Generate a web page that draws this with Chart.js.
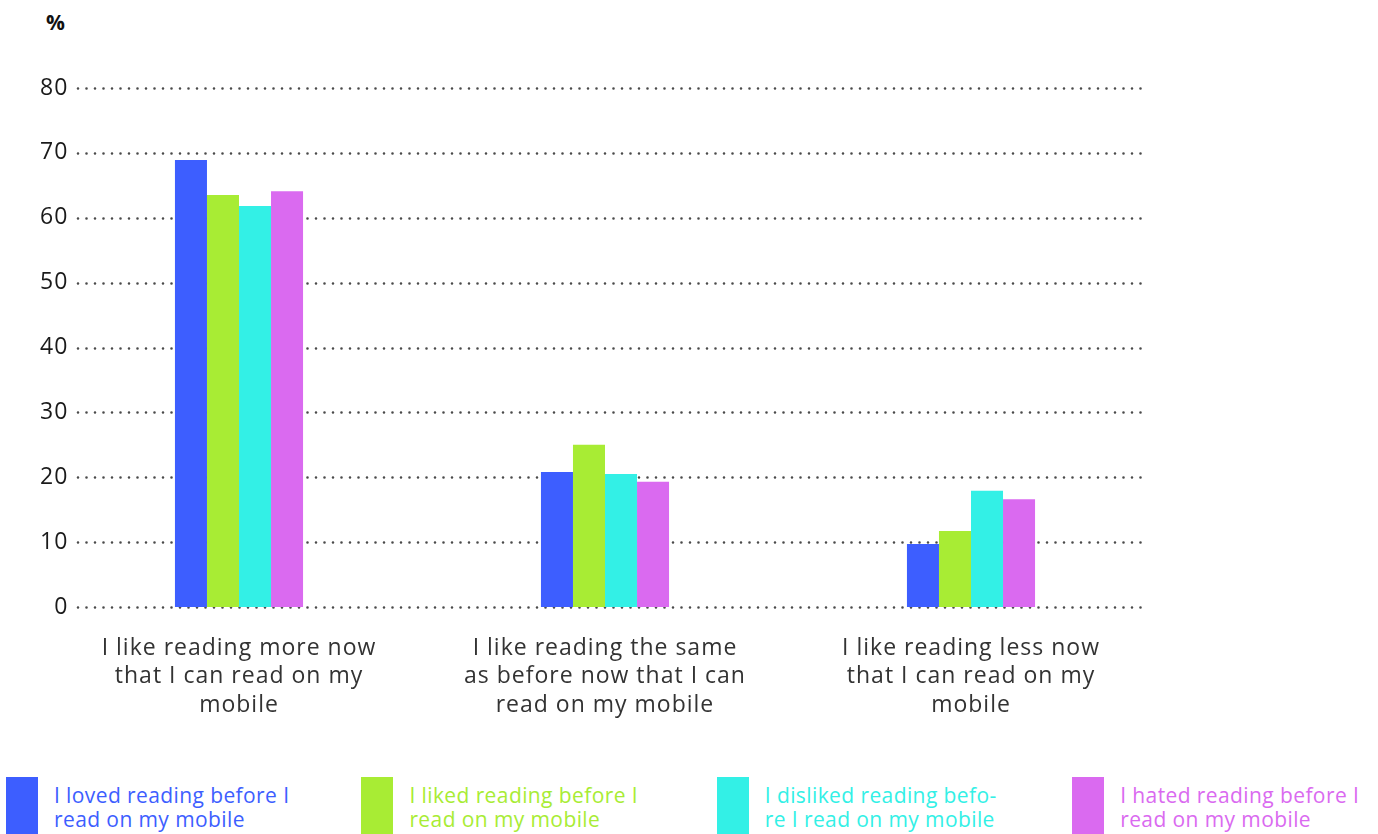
<!DOCTYPE html>
<html>
<head>
<meta charset="utf-8">
<script src="https://cdn.jsdelivr.net/npm/chart.js@4.4.0/dist/chart.umd.min.js"></script>
<style>
  body { margin: 0; background: #fff; width: 1378px; height: 834px; overflow: hidden; position: relative; font-family: "Open Sans", sans-serif; }
  #wrap { position: absolute; left: 0; top: 0; width: 1378px; height: 727px; }
  #unit { position: absolute; left: 46px; top: 8px; font: bold 21px "Open Sans", sans-serif; color: #111; }
  #legend { position: absolute; left: 0; top: 777px; width: 1378px; height: 57px; }
  .item { position: absolute; top: 0; height: 70px; }
  .box { position: absolute; left: 0; top: 0; width: 32px; height: 70px; }
  .txt { position: absolute; left: 48px; top: 6px; font-size: 21px; line-height: 24px; letter-spacing: 0.4px; white-space: nowrap; }
</style>
</head>
<body>
<div id="unit">%</div>
<div id="wrap"><canvas id="chart"></canvas></div>
<div id="legend"></div>
<script>
// categories (already broken into lines)
const categories = [
  ['I like reading more now', 'that I can read on my', 'mobile'],
  ['I like reading the same', 'as before now that I can', 'read on my mobile'],
  ['I like reading less now', 'that I can read on my', 'mobile']
];

const seriesNames = [
  ['I loved reading before I', 'read on my mobile'],
  ['I liked reading before I', 'read on my mobile'],
  ['I disliked reading befo-', 're I read on my mobile'],
  ['I hated reading before I', 'read on my mobile']
];
const seriesColors = ['#3d5eff', '#a8ec34', '#33f0e6', '#da6af0'];

// values per series, one per category
const lovedValues = [68.9, 20.8, 9.7];
const likedValues = [63.5, 25.0, 11.7];
const dislikedValues = [61.8, 20.5, 17.9];
const hatedValues = [64.1, 19.3, 16.6];
const seriesValues = [lovedValues, likedValues, dislikedValues, hatedValues];

const yTicks = [0, 10, 20, 30, 40, 50, 60, 70, 80];

// the source font is a bit wider than Open Sans
const spacing = {
  id: 'spacing',
  beforeDraw(chart) { chart.ctx.letterSpacing = '1px'; }
};

// dotted horizontal lines, drawn under the bars
const dottedGrid = {
  id: 'dottedGrid',
  beforeDatasetsDraw(chart) {
    const { ctx, chartArea, scales: { y } } = chart;
    ctx.save();
    ctx.strokeStyle = '#4a4a4a';
    ctx.lineWidth = 2.6;
    ctx.lineCap = 'round';
    ctx.setLineDash([0, 8.5]);
    yTicks.forEach(v => {
      const py = Math.round(y.getPixelForValue(v)) + 0.5;
      ctx.beginPath();
      ctx.moveTo(chartArea.left + 22, py);
      ctx.lineTo(chartArea.right - 11, py);
      ctx.stroke();
    });
    ctx.restore();
  }
};

new Chart(document.getElementById('chart').getContext('2d'), {
  type: 'bar',
  data: {
    labels: categories,
    datasets: seriesValues.map((vals, i) => ({
      label: seriesNames[i].join(' '),
      data: vals,
      backgroundColor: seriesColors[i],
      borderWidth: 0,
      categoryPercentage: 0.35,
      barPercentage: 1
    }))
  },
  options: {
    responsive: true,
    maintainAspectRatio: false,
    animation: false,
    layout: { padding: { top: 88, left: 0, right: 224, bottom: 0 } },
    plugins: {
      legend: { display: false },
      tooltip: { enabled: false }
    },
    scales: {
      x: {
        grid: { display: false, drawTicks: false },
        border: { display: false },
        ticks: {
          color: '#333',
          font: { family: 'Open Sans', size: 23, lineHeight: 1.24 },
          maxRotation: 0,
          autoSkip: false,
          padding: 27
        },
        afterFit(s) { s.height = 120; }
      },
      y: {
        min: 0,
        max: 80,
        grid: { display: false, drawTicks: false },
        border: { display: false },
        afterBuildTicks(s) { s.ticks = yTicks.map(v => ({ value: v })); },
        ticks: {
          color: '#1a1a1a',
          font: { family: 'Open Sans', size: 23 },
          mirror: true,
          crossAlign: 'far',
          padding: -14
        },
        afterFit(s) { s.width = 56; }
      }
    }
  },
  plugins: [spacing, dottedGrid]
});

// legend below the chart
const legend = document.getElementById('legend');
seriesNames.forEach((lines, i) => {
  const item = document.createElement('div');
  item.className = 'item';
  item.style.left = (6 + i * 355.4) + 'px';
  const box = document.createElement('div');
  box.className = 'box';
  box.style.background = seriesColors[i];
  const txt = document.createElement('div');
  txt.className = 'txt';
  txt.style.color = seriesColors[i];
  txt.innerHTML = lines.join('<br>');
  item.appendChild(box);
  item.appendChild(txt);
  legend.appendChild(item);
});
</script>
</body>
</html>
